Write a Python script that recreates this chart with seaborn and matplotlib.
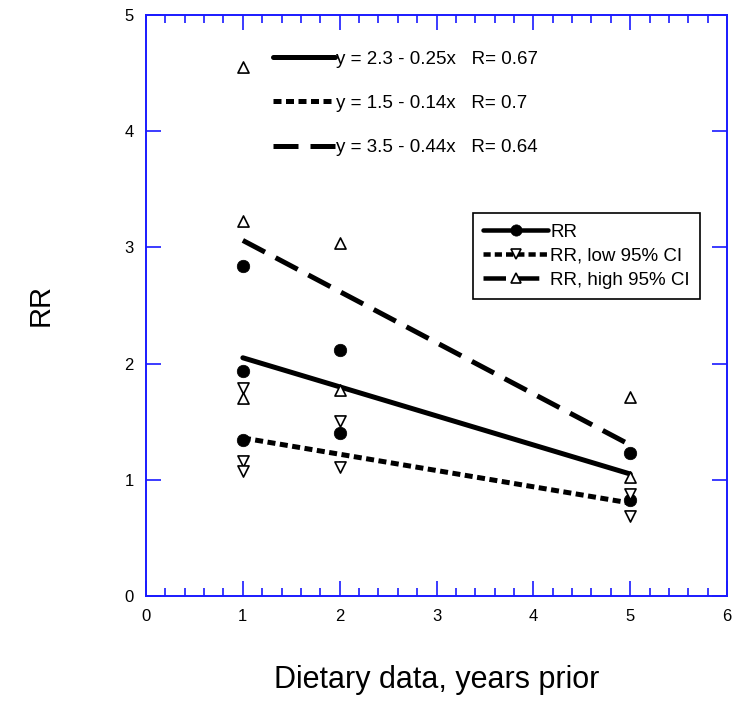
"""RR versus years of dietary data prior, with fitted lines for RR and its 95% CI."""

import matplotlib

matplotlib.use("Agg")

import matplotlib.pyplot as plt
import numpy as np
import pandas as pd
import seaborn as sns
from matplotlib.lines import Line2D
from matplotlib.ticker import MultipleLocator

# point estimates
RR_X = [1, 1, 1, 2, 2, 5, 5]
RR_Y = [2.84, 1.94, 1.34, 2.12, 1.40, 1.23, 0.83]

LOW_X = [1, 1, 1, 2, 2, 5, 5]
LOW_Y = [1.79, 1.16, 1.08, 1.51, 1.11, 0.88, 0.69]

HIGH_X = [1, 1, 1, 2, 2, 5, 5]
HIGH_Y = [4.55, 3.23, 1.70, 3.04, 1.77, 1.71, 1.02]

# fitted lines from the equations shown on the chart
FIT_NAMES = ["RR", "RR, low 95% CI", "RR, high 95% CI"]
FIT_INTERCEPT = [2.3, 1.5, 3.5]
FIT_SLOPE = [-0.25, -0.14, -0.44]
FIT_R = ["0.67", "0.7", "0.64"]
FIT_XRANGE = [1, 5]

FONT = ["Liberation Sans", "DejaVu Sans"]
AXIS_BLUE = "#1a1aff"

STYLES = {
    "RR": dict(ls="-", lw=3.6),
    "RR, low 95% CI": dict(ls=(0, (1.6, 0.9)), lw=3.6),
    "RR, high 95% CI": dict(ls=(0, (5.0, 2.4)), lw=3.6),
}
MARKERS = {
    "RR": dict(marker="o", mfc="black", mec="black", ms=9),
    "RR, low 95% CI": dict(marker="v", mfc="white", mec="black", ms=8, mew=1.2),
    "RR, high 95% CI": dict(marker="^", mfc="white", mec="black", ms=8, mew=1.2),
}


def build_fit_frame() -> pd.DataFrame:
    rows = []
    for name, b0, b1 in zip(FIT_NAMES, FIT_INTERCEPT, FIT_SLOPE):
        for x in FIT_XRANGE:
            rows.append({"series": name, "x": x, "y": b0 + b1 * x})
    return pd.DataFrame(rows)


def main() -> None:
    sns.set_theme(style="ticks")
    plt.rcParams["font.family"] = FONT
    plt.rcParams["text.color"] = "black"
    plt.rcParams["axes.labelcolor"] = "black"

    fig = plt.figure(figsize=(7.39, 7.07), dpi=100)
    ax = fig.add_axes([0.1976, 0.157, 0.7862, 0.8218])

    fits = build_fit_frame()
    for name in FIT_NAMES:
        sub = fits[fits["series"] == name]
        st = STYLES[name]
        sns.lineplot(data=sub, x="x", y="y", ax=ax, color="black",
                     linestyle=st["ls"], linewidth=st["lw"], legend=False,
                     zorder=2)

    point_sets = [("RR", RR_X, RR_Y), ("RR, low 95% CI", LOW_X, LOW_Y),
                  ("RR, high 95% CI", HIGH_X, HIGH_Y)]
    for name, xs, ys in point_sets:
        mk = MARKERS[name]
        sns.scatterplot(x=xs, y=ys, ax=ax, marker=mk["marker"],
                        s=mk["ms"] ** 2, facecolor=mk["mfc"],
                        edgecolor=mk["mec"], linewidth=mk.get("mew", 0.5),
                        zorder=3)

    ax.set_xlim(0, 6)
    ax.set_ylim(0, 5)
    ax.xaxis.set_major_locator(MultipleLocator(1))
    ax.xaxis.set_minor_locator(MultipleLocator(0.2))
    ax.yaxis.set_major_locator(MultipleLocator(1))

    for side in ["left", "right", "top", "bottom"]:
        ax.spines[side].set_visible(True)
        ax.spines[side].set_color(AXIS_BLUE)
        ax.spines[side].set_linewidth(1.4)
    ax.tick_params(which="both", direction="in", color=AXIS_BLUE, width=1.2,
                   top=True, right=True, labelsize=12, labelcolor="black")
    ax.tick_params(which="major", length=11, pad=9)
    ax.tick_params(which="minor", length=6)

    ax.set_xlabel("Dietary data, years prior", fontsize=22, labelpad=30,
                  color="black")
    ax.set_ylabel("RR", fontsize=21, labelpad=50, color="black")

    # series legend
    handles = []
    for name in FIT_NAMES:
        st, mk = STYLES[name], MARKERS[name]
        handles.append(Line2D([], [], color="black", linestyle=st["ls"],
                              linewidth=st["lw"] * 0.9, marker=mk["marker"],
                              markerfacecolor=mk["mfc"], markeredgecolor=mk["mec"],
                              markersize=mk["ms"] * 0.9, markeredgewidth=mk.get("mew", 0.5)))
    leg = ax.legend(handles, FIT_NAMES, loc="upper right",
                    bbox_to_anchor=(0.954, 0.659), borderaxespad=0,
                    fontsize=13.5, handlelength=3.5, handletextpad=0.1,
                    labelspacing=0.38, borderpad=0.55, fancybox=False,
                    framealpha=1, edgecolor="black", numpoints=1)
    leg.get_frame().set_linewidth(1.2)
    for txt in leg.get_texts():
        txt.set_color("black")
    ax.add_artist(leg)

    # equation legend
    eq_handles, eq_labels = [], []
    for name, b0, b1, r in zip(FIT_NAMES, FIT_INTERCEPT, FIT_SLOPE, FIT_R):
        st = STYLES[name]
        eq_handles.append(Line2D([], [], color="black", linestyle=st["ls"],
                                 linewidth=st["lw"]))
        eq_labels.append(f"y = {b0} - {abs(b1)}x   R= {r}")
    eq_leg = ax.legend(eq_handles, eq_labels, loc="upper left",
                       bbox_to_anchor=(0.205, 0.952), borderaxespad=0,
                       frameon=False, fontsize=13.5, handlelength=3.3,
                       handletextpad=0.1, labelspacing=1.45)
    for txt in eq_leg.get_texts():
        txt.set_color("black")

    fig.savefig("out.png", dpi=100)
    plt.close(fig)


if __name__ == "__main__":
    main()
